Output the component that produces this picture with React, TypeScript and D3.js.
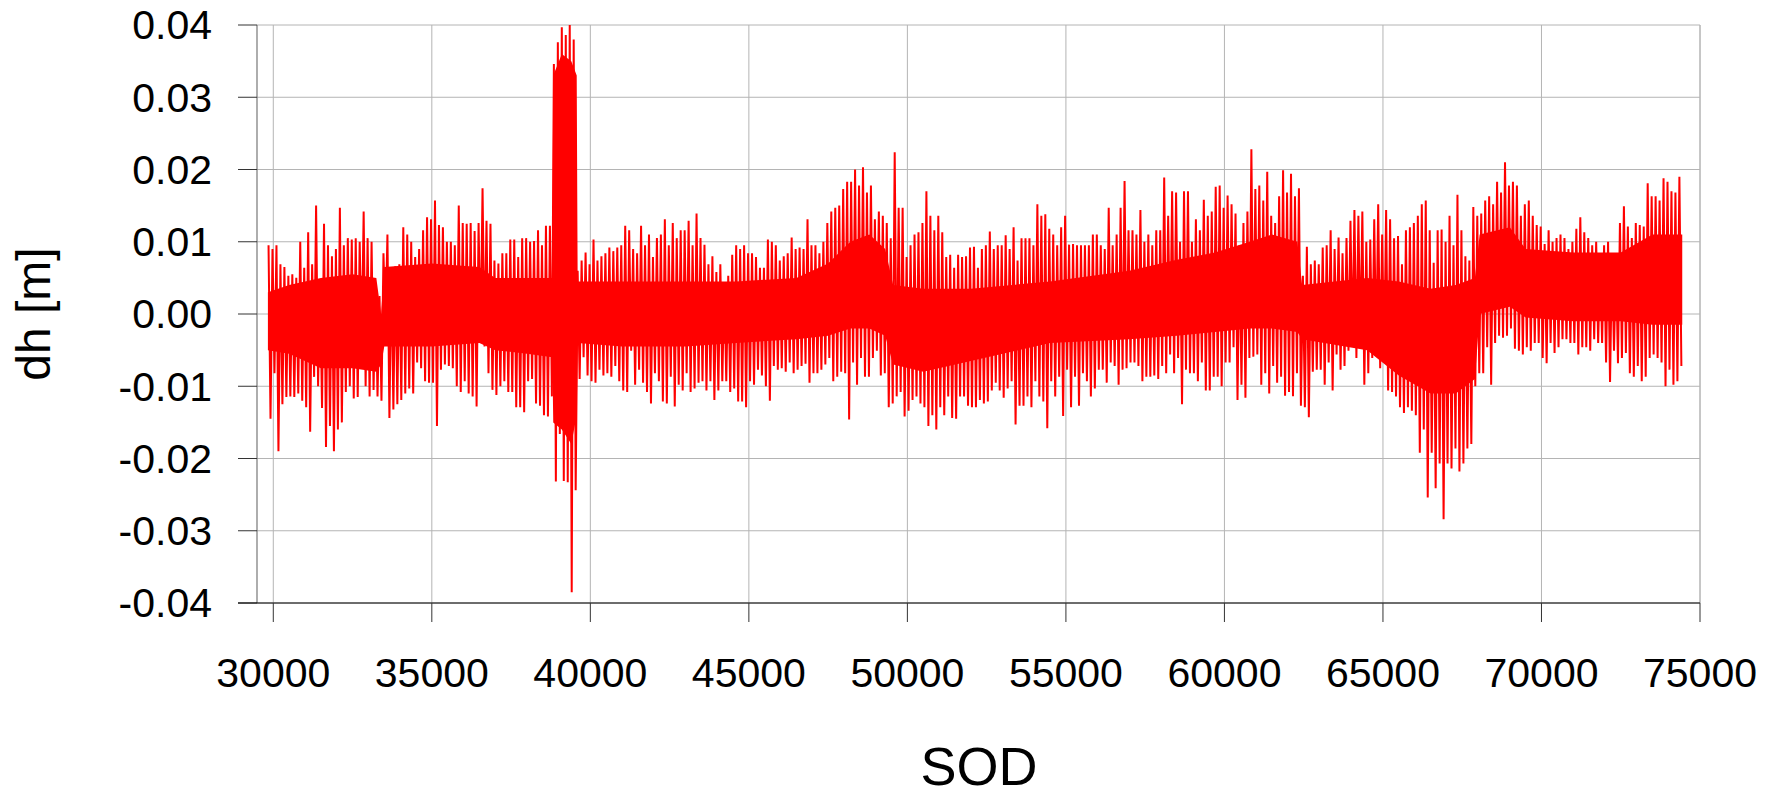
import React from 'react';
import * as d3 from 'd3';

const W = 1778;
const H = 796;
const LEFT = 257;
const RIGHT = 1700;
const TOP = 25;
const BOTTOM = 603;

// samples of the trace: per 250 s the highest and lowest dh (mm)
const SOD_START = 29850;
const SOD_STEP = 250;
const spikeHi = [
  9.5, 9.5, 6.5, 5.5, 10, 11.3, 15, 12.5, 8, 14.7,
  10.5, 10.5, 14.2, 10, 2.5, 11, 6.6, 12, 10, 9,
  13.4, 15.7, 12, 10, 15, 12.5, 11.5, 17.4, 12.5, 7,
  8.4, 10.3, 10.5, 10, 11.6, 12.2, 34.6, 39.7, 40, 6,
  8.5, 10.3, 8, 9.2, 9.2, 12.2, 9, 12.2, 11, 10.5,
  13.1, 12.6, 11.6, 12.9, 13.9, 9.6, 8, 6.9, 5.3, 9.5,
  9.5, 8.4, 6.4, 10.3, 9.5, 8, 10.6, 9.2, 13.1, 9.5,
  10, 14.2, 15, 18.3, 20, 20.3, 17.8, 14.2, 12.6, 22.4,
  14.7, 9.5, 11.3, 17, 11.6, 11.3, 8.2, 8.2, 8, 9.3,
  9, 11.4, 9.5, 10.9, 12, 10.5, 10.5, 15.2, 13.8, 11,
  12, 9.6, 9.5, 9.5, 11, 9.5, 14.7, 11, 18.4, 11.6,
  14.4, 11, 11.6, 18.9, 17, 10, 17, 13.1, 15.8, 14.2,
  17.8, 16.4, 13.9, 12.6, 22.8, 17.8, 19.7, 12.6, 19.9, 19.4,
  17.4, 9.3, 7.4, 9.2, 11.6, 10.6, 10.5, 14.4, 14.2, 10.3,
  15.2, 14.4, 10.5, 6.9, 12, 13.6, 15.7, 7.1, 11.7, 13.6,
  16.5, 8, 14.8, 13.9, 16.3, 18.3, 21, 18.3, 13.6, 15.7,
  12.3, 9.7, 10, 11, 9, 11.8, 11.3, 9.5, 7.4, 10,
  7.4, 14.9, 10.5, 12.3, 18.1, 16.3, 18.8, 17, 19,
];
const spikeLo = [
  -14.5, -19, -11.5, -11.5, -12, -16.3, -10, -18.4, -19, -15,
  -10, -11.5, -10, -10.5, -12, -14.4, -12.5, -11, -11, -7.5,
  -9.5, -15.5, -7, -7.5, -10.8, -11, -12.8, -4.5, -10.5, -10,
  -10.8, -12.9, -13.6, -9, -12.7, -14.2, -23.2, -23.1, -38.5, -9,
  -8.5, -9.5, -8.5, -8.7, -9.3, -10.8, -9.8, -9.5, -12.4, -9.3,
  -12.4, -12.8, -10.6, -10.8, -9.5, -10.6, -11.9, -9.3, -10.8, -12.1,
  -12.9, -9.8, -8.5, -12, -7.7, -8, -8.2, -7.2, -9.5, -8.2,
  -7, -9.3, -8, -14.6, -9.8, -8.7, -6.1, -8.5, -12.9, -11.4,
  -14.2, -11.9, -12.4, -15.5, -16, -14, -14.4, -11.4, -12.7, -12.9,
  -12.4, -10.6, -10.6, -10.3, -15.3, -12.7, -12.9, -11.4, -15.8, -11.4,
  -14.1, -12.9, -12.7, -9.3, -10.3, -7.7, -6.7, -9.8, -7.5, -6.7,
  -9.3, -8.7, -9, -8.2, -8.2, -12.5, -8.2, -9.3, -10.6, -8.7,
  -10, -6.7, -11.9, -11.6, -5.9, -9.8, -11, -9.5, -11.3, -11.4,
  -12.7, -14.3, -7.7, -9.8, -10.6, -7.7, -5.1, -6.1, -9.8, -6.1,
  -7.5, -10.6, -11.4, -13.7, -13.4, -19.2, -25.4, -24.1, -28.4, -21.4,
  -21.8, -18.6, -10, -8.2, -9.8, -3, -3, -4.8, -5.6, -5.1,
  -4, -6.8, -5.4, -3.5, -4, -5.6, -4.6, -3.5, -4, -9.4,
  -6.8, -5.4, -8.7, -9.3, -6.1, -6.1, -10, -9.8, -7.2,
];

// same, read half a step (125 s) after each sample
const midHi = [
  9, 6.9, 5.3, 5, 6.4, 6.9, 4.3, 9.5, 9, 9.5,
  10.3, 10, 10.5, 4.3, 8.4, 6.4, 6.9, 11, 7.9, 11.6,
  13.1, 12.3, 10, 9.5, 12.6, 12.6, 12.6, 12.9, 7.4, 8.4,
  10.3, 7.9, 10.5, 10.1, 9.5, 12.2, 37.6, 38.6, 38, 7.4,
  6.9, 7.4, 8.4, 8.7, 9.5, 11.6, 8.4, 9.5, 7.9, 11,
  9.5, 10.5, 11.6, 9.5, 10.5, 6.9, 5.8, 4.3, 8.2, 9,
  8.4, 7.9, 6.4, 10, 7.4, 8.4, 9, 9, 9.5, 8.4,
  12.6, 14.7, 17.3, 18.3, 17.8, 16.8, 13.1, 13.6, 10.5, 14.7,
  7.9, 11, 12.6, 13.6, 13.6, 7.9, 6.4, 7.9, 9.2, 6.4,
  9.5, 9, 9.5, 9, 7.4, 10.5, 9.5, 13.6, 11.8, 9.5,
  13.6, 9.7, 9.5, 9.5, 11, 9, 9.5, 14.7, 11.6, 11,
  10, 9.5, 11.6, 13.6, 16.8, 17, 10, 11.6, 13.6, 17.6,
  14.7, 15.2, 9.5, 14.2, 17.3, 15.7, 13.6, 16.3, 16.8, 16.3,
  5.3, 6.9, 6.9, 9.5, 9, 8.4, 12.9, 13.6, 10, 13.1,
  11, 13.1, 10.8, 11.6, 12.6, 15.2, 11.6, 11.6, 10, 9.5,
  11.6, 7.4, 13.6, 15.7, 15.2, 16.8, 17.8, 17.8, 15.2, 13.6,
  12.1, 11.6, 10.5, 10.5, 10, 13.4, 10.5, 10, 9.5, 7.9,
  12.6, 12.1, 12.6, 12.1, 16.3, 15.7, 18.3, 16.8,
];
const midLo = [
  -8.2, -12.5, -11.4, -11, -12.9, -8.7, -13, -15.5, -16, -10.8,
  -11.7, -5.1, -11.4, -11.4, -2, -13.2, -11.9, -10.3, -6.7, -9.3,
  -9.5, -7.7, -7.2, -10, -9.3, -11.4, -4, -8.2, -11.2, -9.3,
  -10.8, -12.9, -9.3, -12.4, -14, -11.4, -16.6, -23.3, -24.4, -6,
  -9.3, -7.7, -8.2, -7.2, -10.6, -5.1, -7.7, -10.8, -8.2, -12.1,
  -8.7, -9.8, -8.2, -10.3, -9.3, -9.3, -10.6, -9.3, -10.3, -12.1,
  -9.3, -7.7, -10, -7.2, -7.5, -6.7, -7.7, -6.9, -8.2, -7.7,
  -6.1, -8.7, -8.2, -6.7, -6.1, -8.7, -5.1, -8.2, -12.4, -10.8,
  -13.4, -11.4, -12.9, -14, -12.9, -11.4, -14.5, -11.4, -12.9, -11.9,
  -12.1, -9.5, -11.6, -9.3, -12.7, -11.4, -9.3, -12.1, -9.3, -8.7,
  -7.7, -8.7, -8.2, -11.4, -7.7, -9.5, -7.2, -7.7, -6.7, -7.2,
  -8.7, -8.5, -7.2, -5.6, -6.1, -7.7, -8.2, -6.7, -10.6, -8.7,
  -6.7, -4.6, -9.8, -6.1, -5.6, -8.2, -7.2, -8.7, -10.8, -8.2,
  -12.9, -8, -7.7, -6.7, -5.6, -7.2, -4, -4, -8.2, -5.6,
  -6.1, -10.8, -12.9, -12.9, -14, -16, -19.2, -20.7, -20.7, -18.6,
  -20.7, -18, -8.2, -4.6, -4, -3.3, -2, -5.1, -4.6, -4,
  -6.1, -4, -4.6, -3.5, -4, -4.6, -5.1, -4, -6.7, -5.1,
  -6.1, -8.2, -7.2, -8.7, -5.6, -6.7, -7.7, -9.3,
];

// the dense solid band of the trace (mm)
const coreSod = [
  29830, 30500, 31500, 32500, 33250, 33400, 33500, 35000, 36500, 37000,
  38000, 38800, 38830, 39100, 39400, 39570, 39600, 41000, 43000, 44600,
  46500, 47500, 48200, 48800, 49300, 49550, 50500, 52000, 54500, 57000,
  58500, 59700, 60800, 61500, 62300, 62450, 64500, 65500, 66500, 67300,
  67900, 68050, 69000, 69500, 71000, 72500, 73500, 74440,
];
const coreHi = [
  3, 4, 5, 5.5, 5, 0, 6.5, 7, 6.5, 5,
  5, 5, 33, 36, 35, 33, 4.5, 4.5, 4.5, 4.5,
  5, 7, 10, 11, 9, 4, 3.5, 3.5, 4.5, 6,
  7.5, 8.5, 10, 11, 10, 4, 5, 4.5, 3.5, 4,
  5, 11, 12, 9, 8.5, 8.5, 11, 11,
];
const coreLo = [
  -5, -5.5, -7.5, -7.5, -8, -7, -4.5, -4.5, -4, -5,
  -5.5, -6, -15, -16, -18, -14, -4, -4.5, -4.5, -4,
  -3.5, -3, -2, -2, -3, -7, -8, -6.5, -4, -3.5,
  -3, -2.5, -2, -2, -2.5, -3.5, -5, -8.5, -11, -11,
  -9, 0, 1, -0.5, -1, -1, -1.5, -1.5,
];

const xTicks = [30000, 35000, 40000, 45000, 50000, 55000, 60000, 65000, 70000, 75000];
const yTicks = [-0.04, -0.03, -0.02, -0.01, 0, 0.01, 0.02, 0.03, 0.04];
const yTickLabels = ['-0.04', '-0.03', '-0.02', '-0.01', '0.00', '0.01', '0.02', '0.03', '0.04'];

const FONT = '"Liberation Sans", Arial, sans-serif';

type Pt = { sod: number; v: number };
type Band = { sod: number; hi: number; lo: number };

export default function App() {
  const x = d3.scaleLinear().domain([29486, 75000]).range([LEFT, RIGHT]);
  const y = d3.scaleLinear().domain([-0.04, 0.04]).range([BOTTOM, TOP]);

  // trace zig-zags through the readings in time order
  const trace: Pt[] = [];
  spikeHi.forEach((hi, i) => {
    const s = SOD_START + i * SOD_STEP;
    trace.push({ sod: s, v: hi / 1000 });
    trace.push({ sod: s + SOD_STEP / 4, v: spikeLo[i] / 1000 });
    if (i < midHi.length) {
      trace.push({ sod: s + SOD_STEP / 2, v: midHi[i] / 1000 });
      trace.push({ sod: s + (3 * SOD_STEP) / 4, v: midLo[i] / 1000 });
    }
  });
  const core: Band[] = coreSod.map((s, i) => ({ sod: s, hi: coreHi[i] / 1000, lo: coreLo[i] / 1000 }));

  const line = d3
    .line<Pt>()
    .x(d => x(d.sod))
    .y(d => y(d.v));
  const area = d3
    .area<Band>()
    .x(d => x(d.sod))
    .y0(d => y(d.lo))
    .y1(d => y(d.hi));

  return (
    <div style={{ position: 'absolute', left: 0, top: 0 }}>
      <svg width={W} height={H} style={{ display: 'block', background: '#fff' }}>
        {/* grid */}
        {yTicks.map(t => (
          <line key={'gy' + t} x1={LEFT} x2={RIGHT} y1={y(t)} y2={y(t)} stroke="#b4b4b4" strokeWidth={1} />
        ))}
        {xTicks.map(t => (
          <line key={'gx' + t} x1={x(t)} x2={x(t)} y1={TOP} y2={BOTTOM} stroke="#b4b4b4" strokeWidth={1} />
        ))}
        <line x1={RIGHT} x2={RIGHT} y1={TOP} y2={BOTTOM} stroke="#b4b4b4" strokeWidth={1} />

        {/* trace */}
        <path d={area(core) || ''} fill="#ff0000" />
        <path d={line(trace) || ''} fill="none" stroke="#ff0000" strokeWidth={2} strokeLinejoin="bevel" />

        {/* axes */}
        <line x1={LEFT} x2={LEFT} y1={TOP} y2={BOTTOM} stroke="#777" strokeWidth={1.2} />
        {yTicks.map(t => (
          <line key={'ty' + t} x1={LEFT - 19} x2={LEFT} y1={y(t)} y2={y(t)} stroke="#333" strokeWidth={1} />
        ))}
        <line x1={LEFT - 19} x2={RIGHT} y1={BOTTOM} y2={BOTTOM} stroke="#000" strokeWidth={1.2} />
        {xTicks.map(t => (
          <line key={'tx' + t} x1={x(t)} x2={x(t)} y1={BOTTOM} y2={BOTTOM + 19} stroke="#333" strokeWidth={1} />
        ))}

        {/* tick labels */}
        {yTicks.map((t, i) => (
          <text key={'ly' + t} x={212} y={y(t)} dy="0.35em" textAnchor="end" fontFamily={FONT} fontSize={41} fill="#000">
            {yTickLabels[i]}
          </text>
        ))}
        {xTicks.map(t => (
          <text key={'lx' + t} x={x(t)} y={687} textAnchor="middle" fontFamily={FONT} fontSize={41} fill="#000">
            {t}
          </text>
        ))}

        {/* titles */}
        <text x={979} y={785} textAnchor="middle" fontFamily={FONT} fontSize={54} fill="#000">
          SOD
        </text>
        <text
          transform={`translate(50, ${(TOP + BOTTOM) / 2}) rotate(-90)`}
          textAnchor="middle"
          fontFamily={FONT}
          fontSize={48}
          fill="#000"
        >
          dh [m]
        </text>
      </svg>
    </div>
  );
}
